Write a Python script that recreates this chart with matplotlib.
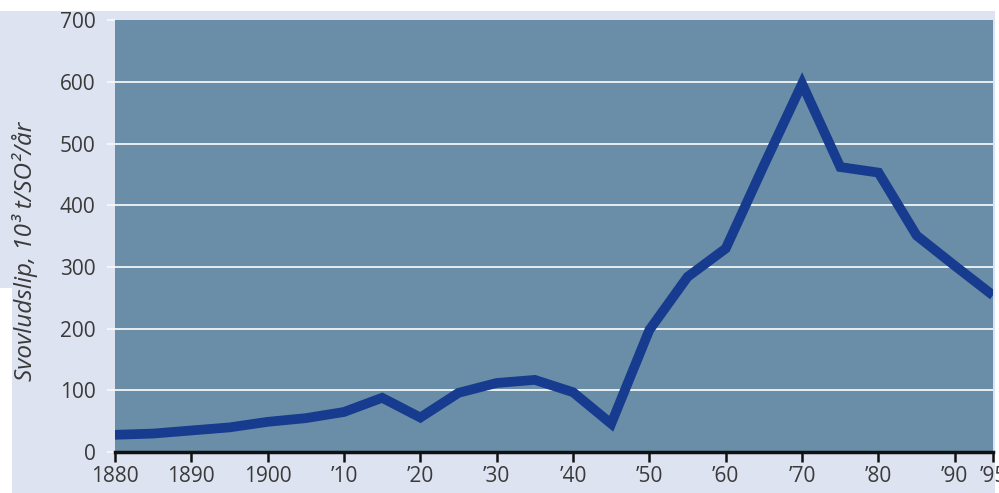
import numpy as np
import matplotlib.pyplot as plt
from matplotlib.patches import Rectangle

# Sulphur emissions, thousand tonnes per year
years = [1880, 1885, 1890, 1895, 1900, 1905, 1910, 1915, 1920, 1925, 1930, 1935,
         1940, 1945, 1950, 1955, 1960, 1965, 1970, 1975, 1980, 1985, 1990, 1995]
emissions = [28, 30, 35, 40, 49, 55, 65, 88, 56, 96, 112, 117,
             97, 46, 198, 284, 330, 465, 597, 462, 453, 351, 302, 254]

tick_years = [1880, 1890, 1900, 1910, 1920, 1930, 1940, 1950, 1960, 1970, 1980, 1990, 1995]
tick_labels = ['1880', '1890', '1900', '\u201910', '\u201920', '\u201930', '\u201940',
               '\u201950', '\u201960', '\u201970', '\u201980', '\u201990', '\u201995']
y_ticks = [0, 100, 200, 300, 400, 500, 600, 700]

plt.rcParams['font.family'] = ['Open Sans', 'DejaVu Sans']

fig = plt.figure(figsize=(9.99, 4.93), dpi=100)
fig.patch.set_facecolor('#dde3f0')
# white paper edges around the print
for rect in [(0, 0.978, 1, 0.03), (0.996, 0, 0.01, 1), (0, 0, 0.012, 0.415)]:
    fig.patches.append(Rectangle(rect[:2], rect[2], rect[3], transform=fig.transFigure,
                                 facecolor='white', edgecolor='none', zorder=-1))

ax = fig.add_axes([0.115, 0.083, 0.879, 0.876])
ax.set_facecolor('#6a8ea7')

ax.plot(years, emissions, color='#173b8e', linewidth=7,
        solid_joinstyle='miter', solid_capstyle='butt', zorder=3)

ax.set_xlim(1880, 1995)
ax.set_ylim(0, 700)
ax.set_xticks(tick_years)
ax.set_xticklabels(tick_labels)
ax.set_yticks(y_ticks)

for v in y_ticks[1:-1]:
    ax.axhline(v, color='#e8eef2', linewidth=1.4, zorder=1)

for side in ['top', 'right', 'left']:
    ax.spines[side].set_visible(False)
ax.spines['bottom'].set_linewidth(2.5)
ax.spines['bottom'].set_color('#111111')

ax.tick_params(axis='x', direction='out', length=7, width=1.8, color='#111111',
               labelsize=15, labelcolor='#3a3a3a', pad=3)
ax.tick_params(axis='y', direction='out', length=6, width=1.4, color='#f4f6f8',
               labelsize=15, labelcolor='#3a3a3a', pad=8)

ax.set_ylabel('Svovludslip, 10\u00b3 t/SO\u00b2/\u00e5r', fontsize=17.5, style='italic',
              color='#3a3a3a')
ax.yaxis.set_label_coords(-0.088, 0.465)

fig.savefig('out.png', dpi=100, facecolor=fig.get_facecolor())
